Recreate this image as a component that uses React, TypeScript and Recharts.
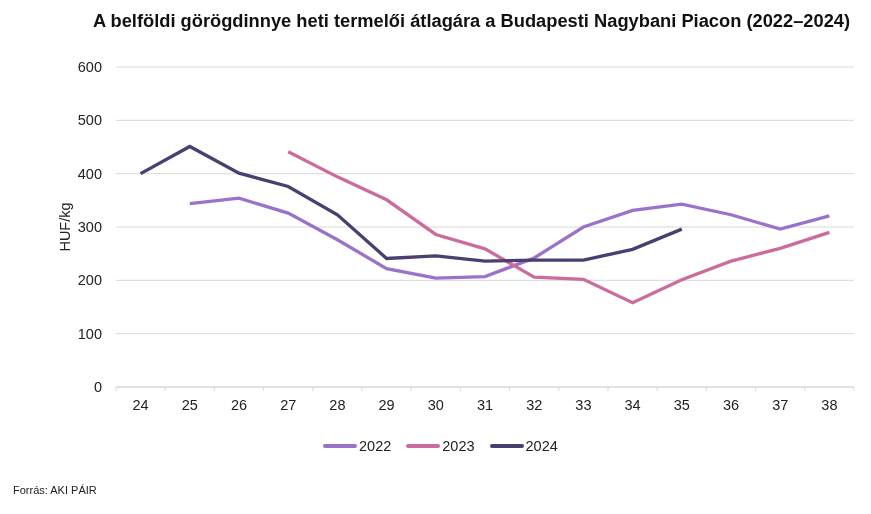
import React from "react"
import {
  LineChart,
  Line,
  XAxis,
  YAxis,
  CartesianGrid,
} from "recharts"

const weeks = ["24", "25", "26", "27", "28", "29", "30", "31", "32", "33", "34", "35", "36", "37", "38"]
const y2022 = [null, 344, 354, 326, 276, 222, 204, 207, 242, 300, 331, 343, 323, 296, 321]
const y2023 = [null, null, null, 441, 394, 351, 286, 259, 206, 202, 158, 201, 236, 260, 290]
const y2024 = [400, 451, 401, 376, 323, 241, 246, 236, 238, 238, 258, 296, null, null, null]
const yTicks = [0, 100, 200, 300, 400, 500, 600]

const series = [
  { key: "y2022", name: "2022", color: "#9b72c9" },
  { key: "y2023", name: "2023", color: "#cc6b9d" },
  { key: "y2024", name: "2024", color: "#4a3f6f" },
]

const data = weeks.map((w, i) => ({
  week: w,
  y2022: y2022[i],
  y2023: y2023[i],
  y2024: y2024[i],
}))

const font = "'Liberation Sans', Arial, sans-serif"

function WeekTick(props: any) {
  const { x, y, payload, index } = props
  const half = 49.2 / 2
  return (
    <g>
      <line x1={x - half} x2={x - half} y1={y - 8} y2={y - 4} stroke="#d9d9d9" />
      {index === weeks.length - 1 && (
        <line x1={x + half} x2={x + half} y1={y - 8} y2={y - 4} stroke="#d9d9d9" />
      )}
      <text x={x} y={y + 15} textAnchor="middle" fontSize={14.5} fill="#222" fontFamily={font}>
        {payload.value}
      </text>
    </g>
  )
}

export default function App() {
  return (
    <div style={{ position: "fixed", left: 0, top: 0, width: 871, height: 514, background: "#fff", fontFamily: font }}>
      <div
        style={{
          position: "absolute",
          top: 10,
          left: 0,
          width: 943,
          textAlign: "center",
          fontSize: 18.3,
          fontWeight: "bold",
          color: "#111",
          whiteSpace: "nowrap",
        }}
      >
        A belföldi görögdinnye heti termelői átlagára a Budapesti Nagybani Piacon (2022–2024)
      </div>
      <LineChart
        width={871}
        height={514}
        data={data}
        margin={{ top: 67, right: 17, left: 66, bottom: 97 }}
      >
        <CartesianGrid vertical={false} stroke="#d9d9d9" />
        <XAxis
          dataKey="week"
          scale="band"
          axisLine={{ stroke: "#d9d9d9" }}
          tickLine={false}
          tick={<WeekTick />}
          interval={0}
          height={30}
        />
        <YAxis
          width={50}
          domain={[0, 600]}
          ticks={yTicks}
          axisLine={false}
          tickLine={false}
          tickMargin={8}
          tick={{ fontSize: 14.5, fill: "#222", fontFamily: font }}
          label={{
            value: "HUF/kg",
            angle: -90,
            position: "left",
            offset: 1,
            style: { fontSize: 14.5, fill: "#222", fontFamily: font, textAnchor: "middle" },
          }}
        />
        {series.map((s) => (
          <Line
            key={s.key}
            type="linear"
            dataKey={s.key}
            name={s.name}
            stroke={s.color}
            strokeWidth={3.3}
            dot={false}
            activeDot={false}
            isAnimationActive={false}
          />
        ))}
      </LineChart>
      <div
        style={{
          position: "absolute",
          top: 438,
          left: 323,
          display: "flex",
          gap: 15,
          fontSize: 14.5,
          color: "#222",
        }}
      >
        {series.map((s) => (
          <span key={s.key} style={{ display: "flex", alignItems: "center" }}>
            <span
              style={{
                display: "inline-block",
                width: 34,
                height: 4,
                borderRadius: 2,
                background: s.color,
                marginRight: 2,
              }}
            />
            {s.name}
          </span>
        ))}
      </div>
      <div style={{ position: "absolute", top: 484, left: 13, fontSize: 11, color: "#222" }}>
        Forrás: AKI PÁIR
      </div>
    </div>
  )
}
